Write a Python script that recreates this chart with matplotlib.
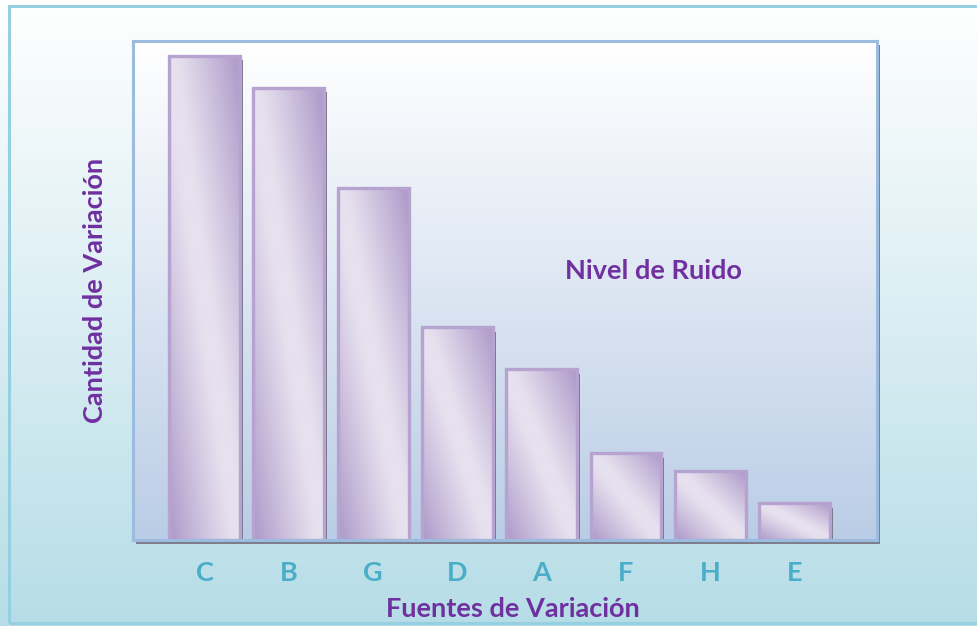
import numpy as np
import matplotlib
matplotlib.use("Agg")
import matplotlib.pyplot as plt
from matplotlib.patches import Rectangle
from matplotlib.colors import to_rgb
import matplotlib.patheffects as pe

categories = ["C", "B", "G", "D", "A", "F", "H", "E"]
values = [48.5, 45.3, 35.3, 21.3, 17.1, 8.7, 6.9, 3.7]
xlabel = "Fuentes de Variación"
ylabel = "Cantidad de Variación"
note = "Nivel de Ruido"

plt.rcParams['font.family'] = ['Lato', 'DejaVu Sans']

W, H = 978, 626
fig = plt.figure(figsize=(W / 100, H / 100), dpi=100)

# figure background gradient
bg = fig.add_axes([0, 0, 1, 1], zorder=-10)
bg.axis("off")
top_c = np.array(to_rgb("#ffffff"))
bot_c = np.array(to_rgb("#b6dde7"))
g = np.linspace(0, 1, 256)[:, None]
grad = top_c[None, None, :] * (1 - g[..., None]) + bot_c[None, None, :] * g[..., None]
grad = np.repeat(grad, 2, axis=1)
bg.imshow(grad, extent=(0, 1, 0, 1), aspect="auto", origin="upper", zorder=0)
bg.set_xlim(0, 1)
bg.set_ylim(0, 1)
# outer frame
bg.add_patch(Rectangle((9 / W, 3 / H), 1.2, 1 - 9 / H, fill=False,
                       edgecolor="#94d0e0", lw=2.2, zorder=2))

# main axes (pixel box: left 133, right 877, top 41, bottom 540)
l = 133 / W
r = 877 / W
bottom = 1 - 540 / H
height = (540 - 41) / H
ax = fig.add_axes([l, bottom, r - l, height])
# axes shadow
bg.add_patch(Rectangle((l + 3 / W, bottom - 4 / H), r - l, height,
                       facecolor="#7d7d8c", edgecolor="none", zorder=3))

atop = np.array(to_rgb("#ffffff"))
abot = np.array(to_rgb("#bacde6"))
ag = np.linspace(0, 1, 256)[:, None]
agrad = atop[None, None, :] * (1 - ag[..., None]) + abot[None, None, :] * ag[..., None]
agrad = np.repeat(agrad, 2, axis=1)
ax.imshow(agrad, extent=(0, 1, 0, 1), transform=ax.transAxes, aspect="auto",
          origin="upper", zorder=0)

x = np.arange(len(categories))
width = 0.84
bars = ax.bar(x, values, width=width, color="#d8cfe6", edgecolor="none", zorder=2,
              path_effects=[pe.SimplePatchShadow(offset=(2.0, -3.2), shadow_rgbFace="#6f6f80",
                                                 alpha=0.95), pe.Normal()])

light = np.array(to_rgb("#e7e1ef"))
dark = np.array(to_rgb("#b19ecb"))
nu, nt = 160, 320
u = np.linspace(0, 1, nu)[None, :]
tt = np.linspace(0, 1, nt)[:, None]
d = np.clip((np.abs(u - tt) - 0.08) / 0.85, 0, 1)
s = d ** 1.1
img = light[None, None, :] * (1 - s[..., None]) + dark[None, None, :] * s[..., None]
for bar in bars:
    x0 = bar.get_x()
    w = bar.get_width()
    h = bar.get_height()
    im = ax.imshow(img, extent=(x0, x0 + w, 0, h), aspect="auto", origin="upper",
                   zorder=3, interpolation="bilinear")
    im.set_clip_path(bar)
ax.bar(x, values, width=width, fill=False, edgecolor="#b6a3cf", lw=2.4, zorder=4)

ax.set_xlim(-0.85, 7.98)
ax.set_ylim(0, 50)
for sp in ax.spines.values():
    sp.set_color("#9bbbdf")
    sp.set_linewidth(2.2)
    sp.set_zorder(5)

fs = 19.5
ax.set_xticks(x)
ax.set_xticklabels(categories, color="#4badc7", fontsize=fs, fontweight="bold")
ax.set_yticks([])
ax.tick_params(axis="x", length=0, pad=15)
ax.set_xlabel(xlabel, color="#7030a0", fontsize=fs, fontweight="bold")
ax.xaxis.set_label_coords(0.511, -0.115)
ax.set_ylabel(ylabel, color="#7030a0", fontsize=fs, fontweight="bold", labelpad=19)
ax.text(0.70, 0.539, note, transform=ax.transAxes, ha="center", va="center",
        color="#7030a0", fontsize=fs, fontweight="bold", zorder=6)

fig.savefig("out.png", dpi=100)
